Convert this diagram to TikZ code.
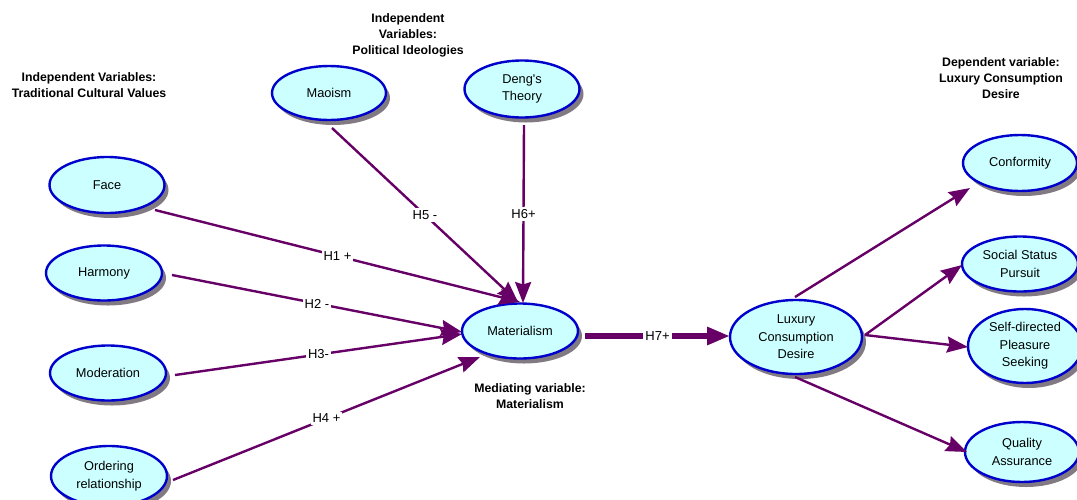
\documentclass[tikz,border=0pt]{standalone}
\usepackage{fontspec}
\setmainfont{Liberation Sans}
\usetikzlibrary{shapes.geometric,shadows,arrows.meta,calc}
\definecolor{edgec}{RGB}{102,0,102}
\definecolor{nodeborder}{RGB}{0,0,204}
\definecolor{nodefill}{RGB}{204,255,255}
\definecolor{shadowc}{RGB}{130,122,130}
\begin{document}
\begin{tikzpicture}[x=1pt,y=-1pt,
  var/.style={ellipse, draw=nodeborder, line width=2.4pt, fill=nodefill, inner sep=0pt,
    align=center, font=\fontsize{12.8}{17.5}\selectfont,
    drop shadow={shadow xshift=4pt, shadow yshift=-5pt, fill=shadowc, opacity=1}},
  head/.style={align=center, font=\bfseries\fontsize{12.3}{16}\selectfont, inner sep=0pt},
  link/.style={draw=edgec, line width=2.4pt, -{Stealth[length=21pt,width=16pt,inset=2.5pt]}},
  biglink/.style={draw=edgec, line width=6pt, -{Triangle[length=23pt,width=17pt]}},
  hlab/.style={fill=white, inner sep=2pt, text=black, font=\fontsize{13}{15}\selectfont}
]
\useasboundingbox (0,0) rectangle (1077,499);
\clip (0,0) rectangle (1077,499);

% headings
\node[head] (h1) at (89,85) {Independent Variables:\\Traditional Cultural Values};
\node[head] (h2) at (408,35) {Independent\\Variables:\\Political Ideologies};
\node[head] (h3) at (1001,78) {Dependent variable:\\Luxury Consumption\\Desire};
\node[head] (h4) at (530,396) {Mediating variable:\\Materialism};

% variables
\node[var, minimum width=115pt, minimum height=56pt] (face) at (107,185) {Face};
\node[var, minimum width=116pt, minimum height=55pt] (harm) at (104,273) {Harmony};
\node[var, minimum width=116pt, minimum height=55pt] (mod) at (108,373) {Moderation};
\node[var, minimum width=116pt, minimum height=60pt] (ord) at (109,476) {Ordering\\relationship};
\node[var, minimum width=114pt, minimum height=54pt] (mao) at (329,93) {Maoism};
\node[var, minimum width=115pt, minimum height=57pt] (deng) at (522,89) {Deng\textquotesingle s\\Theory};
\node[var, minimum width=116pt, minimum height=55pt] (mat) at (520,331) {Materialism};
\node[var, minimum width=132pt, minimum height=74pt] (lcd) at (796,337) {Luxury\\Consumption\\Desire};
\node[var, minimum width=114pt, minimum height=56pt] (conf) at (1020,163) {Conformity};
\node[var, minimum width=116pt, minimum height=55pt] (soc) at (1020,264) {Social Status\\Pursuit};
\node[var, minimum width=114pt, minimum height=74pt] (self) at (1025,346) {Self-directed\\Pleasure\\Seeking};
\node[var, minimum width=114pt, minimum height=60pt] (qual) at (1022,452) {Quality\\Assurance};

% hypotheses
\draw[link] ([shift={(48,25)}]face.center) -- node[hlab]{H1 +} ([shift={(0,-29)}]mat.center);
\draw[link] ([shift={(68,2)}]harm.center) -- node[hlab]{H2 -} ([shift={(-58,1)}]mat.center);
\draw[link] ([shift={(67,2)}]mod.center) -- node[hlab]{H3-} ([shift={(-58,3)}]mat.center);
\draw[link] ([shift={(64,4)}]ord.center) -- node[hlab]{H4 +} ([shift={(-40,26)}]mat.center);
\draw[link] ([shift={(3,35)}]mao.center) -- node[hlab]{H5 -} ([shift={(-2,-29)}]mat.center);
\draw[link] ([shift={(2,36)}]deng.center) -- node[hlab]{H6+} ([shift={(3,-28)}]mat.center);
\draw[biglink] ([shift={(65,5)}]mat.center) -- node[hlab]{H7+} ([shift={(-66,-1)}]lcd.center);

% outcomes
\draw[link] ([shift={(-1,-40)}]lcd.center) -- ([shift={(-50,25)}]conf.center);
\draw[link] ([shift={(69,-2)}]lcd.center) -- ([shift={(-58,1)}]soc.center);
\draw[link] ([shift={(69,-2)}]lcd.center) -- ([shift={(-57,1)}]self.center);
\draw[link] ([shift={(-1,40)}]lcd.center) -- ([shift={(-55,0)}]qual.center);
\end{tikzpicture}
\end{document}
